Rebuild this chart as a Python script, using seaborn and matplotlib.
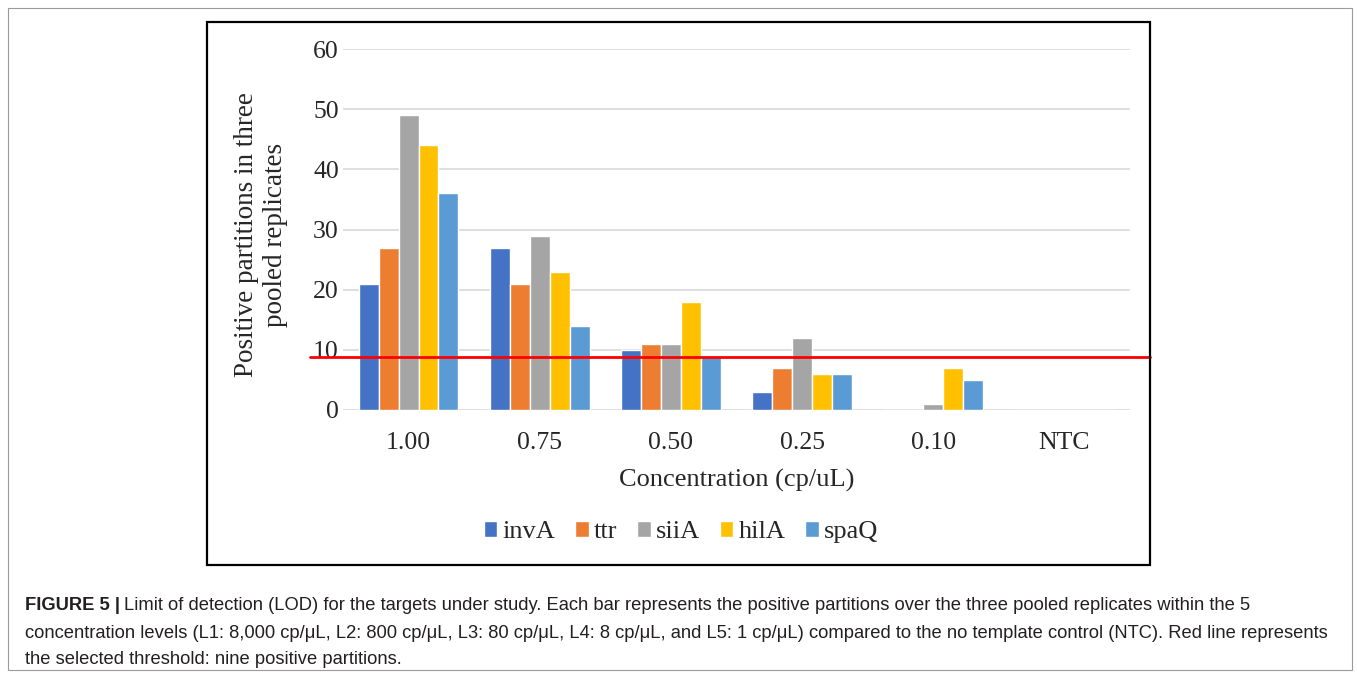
import pandas as pd
import matplotlib
matplotlib.use("Agg")
import matplotlib.pyplot as plt
from matplotlib.patches import Rectangle
import seaborn as sns

concentrations = ["1.00", "0.75", "0.50", "0.25", "0.10", "NTC"]
targets = ["invA", "ttr", "siiA", "hilA", "spaQ"]
invA = [21, 27, 10, 3, 0, 0]
ttr = [27, 21, 11, 7, 0, 0]
siiA = [49, 29, 11, 12, 1, 0]
hilA = [44, 23, 18, 6, 7, 0]
spaQ = [36, 14, 9, 6, 5, 0]
threshold = 8.8

colors = ["#4472C4", "#ED7D31", "#A5A5A5", "#FFC000", "#5B9BD5"]

caption_lines = [
    "Limit of detection (LOD) for the targets under study. Each bar represents the positive partitions over the three pooled replicates within the 5",
    "concentration levels (L1: 8,000 cp/\u03bcL, L2: 800 cp/\u03bcL, L3: 80 cp/\u03bcL, L4: 8 cp/\u03bcL, and L5: 1 cp/\u03bcL) compared to the no template control (NTC). Red line represents",
    "the selected threshold: nine positive partitions.",
]


def build_df():
    rows = []
    for name, vals in zip(targets, [invA, ttr, siiA, hilA, spaQ]):
        for conc, v in zip(concentrations, vals):
            rows.append({"conc": conc, "target": name, "value": v})
    return pd.DataFrame(rows)


def main():
    df = build_df()
    sns.set_style("white")
    serif = "Liberation Serif"

    W, H = 1357, 679
    fig = plt.figure(figsize=(W / 100, H / 100), dpi=100)
    ax = fig.add_axes([343 / W, 1 - 410 / H, 787 / W, 361 / H])

    sns.barplot(data=df, x="conc", y="value", hue="target", order=concentrations,
                hue_order=targets, palette=colors, width=0.76, gap=0,
                saturation=1, ax=ax, zorder=3)

    ax.set_ylim(0, 60)
    ax.set_yticks(range(0, 61, 10))
    ax.grid(axis="y", color="#D9D9D9", lw=1.2, zorder=0)
    ax.set_axisbelow(True)
    sns.despine(ax=ax, left=True, bottom=True)
    for lab in ax.get_xticklabels() + ax.get_yticklabels():
        lab.set_fontfamily(serif)
        lab.set_fontsize(18.5)
    ax.tick_params(axis="y", length=0, pad=3)
    ax.tick_params(axis="x", length=0, pad=16)

    ax.set_xlabel("Concentration (cp/uL)", fontfamily=serif, fontsize=19)
    ax.xaxis.set_label_coords(0.5, -0.163)
    ax.set_ylabel("Positive partitions in three\npooled replicates",
                  fontfamily=serif, fontsize=19.5, linespacing=1.2)
    ax.yaxis.set_label_coords(-0.07, 0.486)

    # threshold line, from the tick labels to the right edge of the chart box
    ax.axhline(threshold, xmin=-0.042, xmax=1.0254, color="#FF0000", lw=2,
               clip_on=False, zorder=5)

    handles, labels = ax.get_legend_handles_labels()
    ax.get_legend().remove()
    fig.legend(handles, labels, loc="center", bbox_to_anchor=(681 / W, 1 - 532 / H),
               ncol=5, frameon=False, handlelength=0.52, handleheight=0.55,
               handletextpad=0.2, columnspacing=0.74,
               prop={"family": serif, "size": 19})

    # chart box and outer frame
    fig.patches.append(Rectangle((207 / W, 1 - 565 / H), 943 / W, 543 / H,
                                 transform=fig.transFigure, fill=False,
                                 edgecolor="black", lw=1.6))
    fig.patches.append(Rectangle((8 / W, 1 - 670 / H), 1344 / W, 662 / H,
                                 transform=fig.transFigure, fill=False,
                                 edgecolor="#9A9A9A", lw=0.8))

    # caption
    cap = "Liberation Sans"
    fs = 13.2
    ys = [606, 633, 659]
    bold = fig.text(25 / W, 1 - ys[0] / H, "FIGURE 5 |", fontfamily=cap,
                    fontsize=fs, fontweight="bold", va="center", color="#231F20")
    ax.annotate(caption_lines[0], xy=(1, 0.5), xycoords=bold, xytext=(3, 0),
                textcoords="offset points", va="center", fontfamily=cap,
                fontsize=fs, color="#231F20", annotation_clip=False)
    for line, y in zip(caption_lines[1:], ys[1:]):
        fig.text(25 / W, 1 - y / H, line, fontfamily=cap, fontsize=fs,
                 va="center", color="#231F20")

    fig.savefig("out.png", dpi=100)


if __name__ == "__main__":
    main()
